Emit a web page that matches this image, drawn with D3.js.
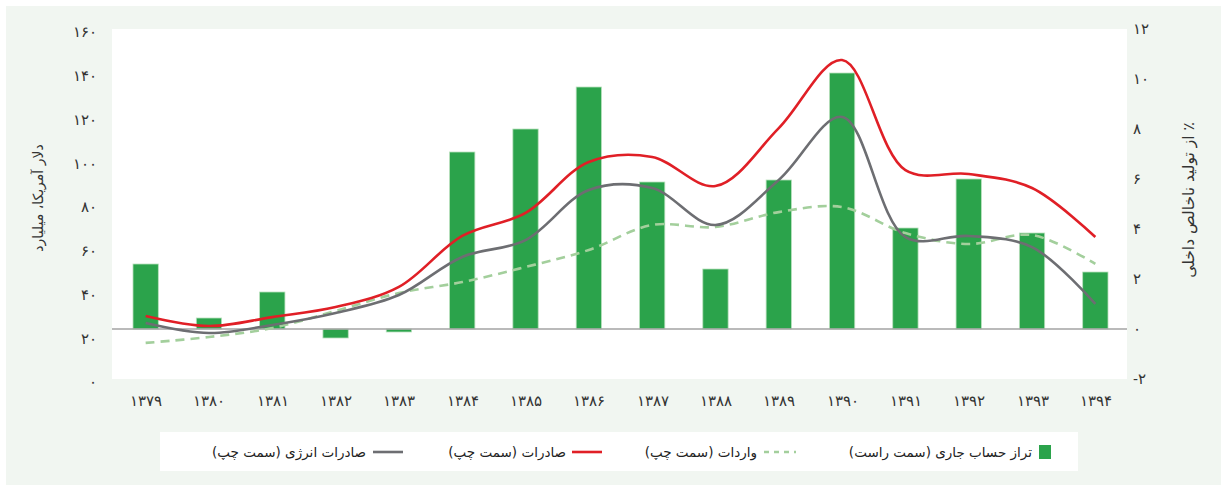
<!DOCTYPE html>
<html><head><meta charset="utf-8">
<script src="https://cdn.jsdelivr.net/npm/d3@7"></script>
<style>
html,body{margin:0;padding:0;background:#fff;}
svg{display:block;font-family:"DejaVu Sans","Noto Sans",sans-serif;}
</style></head>
<body>
<svg id="chart" width="1227" height="489"></svg>
<script>
const years = ['۱۳۷۹','۱۳۸۰','۱۳۸۱','۱۳۸۲','۱۳۸۳','۱۳۸۴','۱۳۸۵','۱۳۸۶','۱۳۸۷','۱۳۸۸','۱۳۸۹','۱۳۹۰','۱۳۹۱','۱۳۹۲','۱۳۹۳','۱۳۹۴'];
const currentAccount = [2.6,0.44,1.48,-0.36,-0.12,7.08,8.0,9.68,5.88,2.4,5.96,10.24,4.04,6.0,3.84,2.28];
const exportsTotal = [28.8,24.2,28.3,32.9,42.1,65.4,75.9,99.2,101.5,88.2,114.7,145.8,95.5,93.7,87.3,64.9];
const energyExports = [25.6,21.0,24.7,30.2,38.4,55.8,63.5,86.4,87.3,70.4,91.0,119.8,64.9,65.4,60.3,34.3];
const imports = [16.5,19.2,23.3,31.1,39.3,44.3,51.2,59.0,70.4,69.5,76.3,78.6,66.7,61.7,65.8,52.6];
const leftTicks = [0,20,40,60,80,100,120,140,160];
const rightTicks = [-2,0,2,4,6,8,10,12];
const leftTitle = 'دلار آمریکا، میلیارد';
const rightTitle = '٪ از تولید ناخالص داخلی';
const legendLabels = ['تراز حساب جاری (سمت راست)','واردات (سمت چپ)','صادرات (سمت چپ)','صادرات انرژی (سمت چپ)'];

const fa = n => String(n).replace(/\d/g, d => '۰۱۲۳۴۵۶۷۸۹'[d]);

const svg = d3.select('#chart');
const plot = {x0:112, x1:1127, y0:29, y1:379};

svg.append('rect').attr('x',6).attr('y',6).attr('width',1215).attr('height',479).attr('fill','#f1f6f1');
svg.append('rect').attr('x',plot.x0).attr('y',plot.y0).attr('width',plot.x1-plot.x0).attr('height',plot.y1-plot.y0).attr('fill','#fff');

const x = d3.scalePoint().domain(years).range([114, plot.x1]).padding(0.5);
const yL = d3.scaleLinear().domain([0,160]).range([plot.y1, plot.y0]);
const yR = d3.scaleLinear().domain([-2,12]).range([plot.y1, plot.y0]);
const barW = x.step()*0.4;

// bars
svg.append('g').selectAll('rect').data(currentAccount).join('rect')
  .attr('x',(d,i)=>x(years[i])-barW/2)
  .attr('y',d=>yR(Math.max(0,d)))
  .attr('width',barW)
  .attr('height',d=>Math.abs(yR(d)-yR(0)))
  .attr('fill','#2ba34b')
  .attr('stroke','#b9e0bd').attr('stroke-width',0.8);

// zero line
svg.append('line').attr('x1',plot.x0).attr('x2',plot.x1).attr('y1',yR(0)).attr('y2',yR(0))
  .attr('stroke','#a3a3a3').attr('stroke-width',1.5);

const line = vals => d3.line().x((d,i)=>x(years[i])).y(d=>yL(d)).curve(d3.curveCatmullRom.alpha(0.5))(vals);

svg.append('path').attr('d',line(imports)).attr('fill','none').attr('stroke','#a3cf9c').attr('stroke-width',2.6).attr('stroke-dasharray','9,6');
svg.append('path').attr('d',line(energyExports)).attr('fill','none').attr('stroke','#6d6e72').attr('stroke-width',2.6);
svg.append('path').attr('d',line(exportsTotal)).attr('fill','none').attr('stroke','#e01f26').attr('stroke-width',2.6);

// left axis
const axL = d3.axisLeft(yL).tickValues(leftTicks).tickSize(0).tickPadding(0).tickFormat(fa);
const gL = svg.append('g').attr('transform','translate(97,3)').call(axL);
gL.select('.domain').remove();
gL.selectAll('text').attr('font-size',15).attr('fill','#333');

const axR = d3.axisRight(yR).tickValues(rightTicks).tickSize(0).tickPadding(0).tickFormat(fa);
const gR = svg.append('g').attr('transform','translate(1133,0)').call(axR);
gR.select('.domain').remove();
gR.selectAll('text').attr('font-size',15).attr('fill','#333');

const axB = d3.axisBottom(x).tickSize(0).tickPadding(0);
const gB = svg.append('g').attr('transform','translate(0,395)').call(axB);
gB.select('.domain').remove();
gB.selectAll('text').attr('font-size',15).attr('fill','#333');

// axis titles
svg.append('text').attr('transform','translate(43,198) rotate(-90)').attr('text-anchor','middle')
  .attr('font-size',14).attr('fill','#333').attr('direction','rtl').text(leftTitle);
svg.append('text').attr('transform','translate(1194,200) rotate(-90)').attr('text-anchor','middle')
  .attr('font-size',15.5).attr('fill','#333').attr('direction','rtl').text(rightTitle);

// legend
svg.append('rect').attr('x',160).attr('y',432).attr('width',918).attr('height',39).attr('fill','#fff');
const ly = 452;
const lg = svg.append('g');
lg.append('rect').attr('x',1039).attr('y',ly-7).attr('width',12).attr('height',14).attr('fill','#2ba34b');
const items = [
  {x:1032, label:legendLabels[0]},
  {x:757, label:legendLabels[1], color:'#a3cf9c', dash:'5,5', sx:[764,796]},
  {x:566, label:legendLabels[2], color:'#e01f26', sx:[572,602]},
  {x:366, label:legendLabels[3], color:'#6d6e72', sx:[373,403]}
];
items.forEach(it=>{
  lg.append('text').attr('x',it.x).attr('y',ly).attr('dy','0.35em').attr('direction','rtl').attr('text-anchor','start')
    .attr('font-size',13.5).attr('fill','#222').text(it.label);
  if(it.sx) lg.append('line').attr('x1',it.sx[0]).attr('x2',it.sx[1]).attr('y1',ly).attr('y2',ly)
    .attr('stroke',it.color).attr('stroke-width',2.6).attr('stroke-dasharray',it.dash||null);
});
</script>
</body></html>
